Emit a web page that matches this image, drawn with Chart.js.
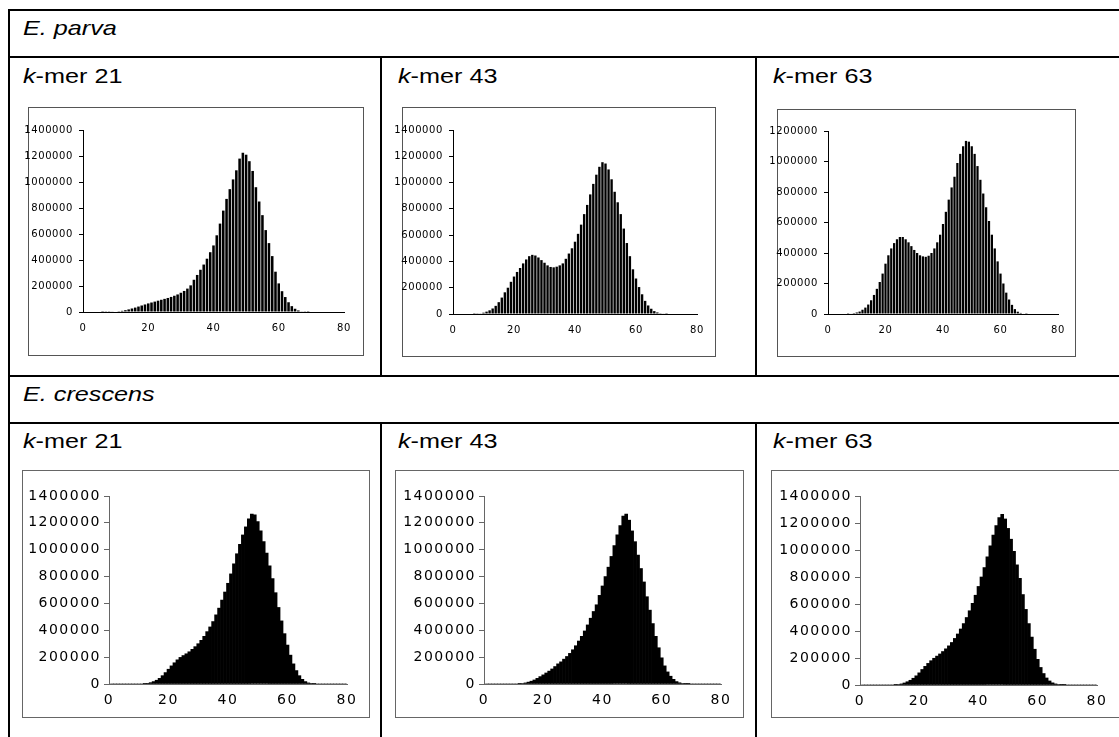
<!DOCTYPE html>
<html>
<head>
<meta charset="utf-8">
<script src="https://cdn.jsdelivr.net/npm/chart.js@4.4.1/dist/chart.umd.min.js"></script>
<style>
  html, body { margin: 0; padding: 0; background: #fff; }
  body { width: 1119px; height: 737px; position: relative; overflow: hidden; font-family: "Liberation Sans", Arial, sans-serif; }
  .rule { position: absolute; background: #000; }
  .label { position: absolute; font-size: 21px; line-height: 21px; color: #000; white-space: nowrap; transform: scaleX(1.2); transform-origin: 0 0; }
  .box { position: absolute; border: 1px solid #555; box-sizing: border-box; background: #fff; }
  .box canvas { position: absolute; top: 0; }
</style>
</head>
<body>
<!-- table rules -->
<div class="rule" style="left:8px;top:9px;width:1111px;height:2px"></div>
<div class="rule" style="left:8px;top:9px;width:2px;height:728px"></div>
<div class="rule" style="left:8px;top:56px;width:1111px;height:2px"></div>
<div class="rule" style="left:8px;top:375px;width:1111px;height:2px"></div>
<div class="rule" style="left:8px;top:422px;width:1111px;height:2px"></div>
<div class="rule" style="left:380px;top:56px;width:2px;height:321px"></div>
<div class="rule" style="left:755px;top:56px;width:2px;height:321px"></div>
<div class="rule" style="left:380px;top:422px;width:2px;height:315px"></div>
<div class="rule" style="left:755px;top:422px;width:2px;height:315px"></div>

<div class="label" style="left:23px;top:17px"><i>E. parva</i></div>
<div class="label" style="left:23px;top:65px"><i>k</i>-mer 21</div>
<div class="label" style="left:398px;top:65px"><i>k</i>-mer 43</div>
<div class="label" style="left:773px;top:65px"><i>k</i>-mer 63</div>
<div class="label" style="left:23px;top:383px"><i>E. crescens</i></div>
<div class="label" style="left:23px;top:430px"><i>k</i>-mer 21</div>
<div class="label" style="left:398px;top:430px"><i>k</i>-mer 43</div>
<div class="label" style="left:773px;top:430px"><i>k</i>-mer 63</div>

<div class="box" style="left:28px;top:107px;width:336px;height:249px"><canvas id="c1"></canvas></div>
<div class="box" style="left:402px;top:107px;width:314px;height:250px"><canvas id="c2"></canvas></div>
<div class="box" style="left:777px;top:109px;width:299px;height:248px"><canvas id="c3"></canvas></div>
<div class="box" style="left:22px;top:470px;width:348px;height:248px;border-color:#666"><canvas id="c4"></canvas></div>
<div class="box" style="left:395px;top:470px;width:349px;height:248px;border-color:#666"><canvas id="c5"></canvas></div>
<div class="box" style="left:771px;top:470px;width:352px;height:248px;border-color:#666"><canvas id="c6"></canvas></div>

<script>
// k-mer depth (x) and counts per depth (y)
const depth = [
  1, 2, 3, 4, 5, 6, 7, 8, 9, 10,
  11, 12, 13, 14, 15, 16, 17, 18, 19, 20,
  21, 22, 23, 24, 25, 26, 27, 28, 29, 30,
  31, 32, 33, 34, 35, 36, 37, 38, 39, 40,
  41, 42, 43, 44, 45, 46, 47, 48, 49, 50,
  51, 52, 53, 54, 55, 56, 57, 58, 59, 60,
  61, 62, 63, 64, 65, 66, 67, 68, 69, 70,
  71, 72, 73, 74, 75, 76, 77, 78, 79, 80
];

const parvaK21 = [
  0, 0, 0, 0, 0, 1000, 2000, 2000, 3000, 4000,
  6000, 9000, 14000, 20000, 27000, 34000, 42000, 50000, 58000, 66000,
  73000, 80000, 87000, 94000, 101000, 108000, 116000, 125000, 135000, 148000,
  162000, 180000, 205000, 248000, 285000, 325000, 365000, 410000, 460000, 512000,
  590000, 680000, 780000, 870000, 945000, 1020000, 1090000, 1180000, 1225000, 1210000,
  1160000, 1085000, 960000, 850000, 745000, 630000, 530000, 430000, 310000, 220000,
  160000, 115000, 75000, 45000, 25000, 12000, 5000, 2000, 1000, 0,
  0, 0, 0, 0, 0, 0, 0, 0, 0, 0
];

const parvaK43 = [
  0, 0, 0, 0, 0, 0, 1000, 2000, 5000, 10000,
  18000, 28000, 42000, 62000, 90000, 125000, 165000, 200000, 245000, 285000,
  320000, 350000, 385000, 415000, 440000, 450000, 445000, 430000, 410000, 390000,
  370000, 358000, 355000, 360000, 370000, 385000, 420000, 460000, 500000, 550000,
  610000, 680000, 760000, 830000, 910000, 990000, 1060000, 1120000, 1155000, 1145000,
  1100000, 1025000, 930000, 850000, 760000, 650000, 540000, 440000, 340000, 270000,
  205000, 150000, 100000, 65000, 40000, 22000, 12000, 6000, 3000, 1000,
  0, 0, 0, 0, 0, 0, 0, 0, 0, 0
];

const parvaK63 = [
  0, 0, 0, 0, 0, 0, 1000, 3000, 6000, 10000,
  16000, 28000, 42000, 62000, 90000, 125000, 165000, 210000, 265000, 330000,
  385000, 430000, 465000, 490000, 505000, 505000, 490000, 470000, 445000, 420000,
  400000, 385000, 378000, 375000, 382000, 400000, 430000, 470000, 520000, 590000,
  670000, 750000, 830000, 900000, 990000, 1050000, 1100000, 1135000, 1130000, 1100000,
  1050000, 970000, 880000, 790000, 700000, 610000, 520000, 430000, 345000, 265000,
  200000, 140000, 95000, 60000, 32000, 15000, 7000, 3000, 1000, 0,
  0, 0, 0, 0, 0, 0, 0, 0, 0, 0
];

const crescensK21 = [
  0, 0, 0, 0, 0, 0, 0, 0, 0, 0,
  0, 2000, 5000, 10000, 18000, 28000, 42000, 62000, 85000, 110000,
  135000, 158000, 180000, 198000, 212000, 225000, 240000, 258000, 278000, 300000,
  325000, 355000, 390000, 425000, 465000, 515000, 565000, 625000, 685000, 750000,
  820000, 895000, 970000, 1040000, 1110000, 1170000, 1230000, 1265000, 1260000, 1210000,
  1140000, 1060000, 975000, 880000, 785000, 680000, 570000, 470000, 375000, 290000,
  215000, 150000, 100000, 62000, 35000, 18000, 8000, 3000, 1000, 0,
  0, 0, 0, 0, 0, 0, 0, 0, 0, 0
];

const crescensK43 = [
  0, 0, 0, 0, 0, 0, 0, 0, 0, 0,
  0, 2000, 4000, 8000, 14000, 21000, 30000, 42000, 55000, 68000,
  82000, 96000, 112000, 130000, 150000, 165000, 185000, 205000, 228000, 255000,
  285000, 320000, 355000, 395000, 440000, 490000, 540000, 590000, 660000, 730000,
  800000, 870000, 950000, 1030000, 1110000, 1180000, 1250000, 1265000, 1220000, 1140000,
  1060000, 960000, 860000, 760000, 650000, 550000, 450000, 355000, 270000, 195000,
  135000, 90000, 58000, 35000, 18000, 9000, 4000, 2000, 1000, 0,
  0, 0, 0, 0, 0, 0, 0, 0, 0, 0
];

const crescensK63 = [
  0, 0, 0, 0, 0, 0, 0, 0, 0, 0,
  0, 2000, 4000, 8000, 15000, 24000, 35000, 50000, 68000, 90000,
  115000, 138000, 160000, 180000, 198000, 214000, 230000, 248000, 268000, 290000,
  315000, 345000, 378000, 415000, 455000, 500000, 550000, 605000, 665000, 730000,
  800000, 870000, 950000, 1030000, 1110000, 1180000, 1240000, 1265000, 1230000, 1160000,
  1080000, 990000, 890000, 790000, 670000, 560000, 455000, 355000, 265000, 190000,
  130000, 85000, 52000, 30000, 16000, 8000, 4000, 2000, 1000, 0,
  0, 0, 0, 0, 0, 0, 0, 0, 0, 0
];

const xTicks = [0, 20, 40, 60, 80];
const yMaxTop = [1400000, 1400000, 1200000];
const yMaxBottom = 1400000;
const yStep = 200000;

// the original tick font is a wide one, letterSpacing widens ours a bit
const tickSpacing = {
  id: 'tickSpacing',
  beforeLayout(chart, args, opts) { chart.ctx.letterSpacing = opts.value; },
  beforeDraw(chart, args, opts) { chart.ctx.letterSpacing = opts.value; }
};

Chart.defaults.font.family = '"DejaVu Sans", sans-serif';
Chart.defaults.color = '#000';

function makeChart(p) {
  const canvas = document.getElementById(p.id);
  // canvas sticks out left of its box so long y labels can overlap the frame
  const w = p.w + p.bleed;
  canvas.width = w; canvas.height = p.h;
  canvas.style.width = w + 'px'; canvas.style.height = p.h + 'px';
  canvas.style.left = (-p.bleed) + 'px';

  new Chart(canvas.getContext('2d'), {
    type: 'bar',
    data: {
      datasets: [{
        data: depth.map((d, i) => ({ x: d, y: p.series[i] })),
        backgroundColor: '#000',
        borderWidth: 0,
        barPercentage: p.bar,
        categoryPercentage: 1
      }]
    },
    plugins: [tickSpacing],
    options: {
      responsive: false,
      animation: false,
      events: [],
      layout: { padding: { left: 0, top: p.padTop, right: p.padRight, bottom: p.padBottom } },
      plugins: {
        legend: { display: false },
        tooltip: { enabled: false },
        tickSpacing: { value: p.spacing }
      },
      scales: {
        x: {
          type: 'linear',
          min: 0, max: 80,
          offset: false,
          afterFit: s => { s.height = p.xAxisH; },
          afterBuildTicks: s => { s.ticks = xTicks.map(v => ({ value: v })); },
          grid: { display: true, drawOnChartArea: false, drawTicks: false },
          border: { display: true, color: p.axisColor, width: 1 },
          ticks: { font: { size: p.font }, padding: p.xPad, maxRotation: 0, autoSkip: false, callback: v => String(v) }
        },
        y: {
          min: 0, max: p.yMax,
          afterFit: s => { s.width = p.axisW + p.bleed; },
          grid: { display: true, drawOnChartArea: false, drawTicks: true, tickLength: p.tick, color: p.axisColor },
          border: { display: true, color: p.axisColor, width: 1 },
          ticks: { stepSize: yStep, font: { size: p.font }, padding: p.yPad, autoSkip: false, callback: v => String(v) }
        }
      }
    }
  });
}

const topRow = { font: 10, spacing: '0.6px', bar: 0.78, xPad: 10, yPad: 6, tick: 4, axisColor: '#000', xAxisH: 24, bleed: 14 };
const bottomRow = { font: 14, spacing: '1.5px', bar: 1, xPad: 8, yPad: 3, tick: 5, axisColor: '#666', xAxisH: 30, bleed: 8 };

makeChart(Object.assign({}, topRow, { id: 'c1', series: parvaK21, yMax: yMaxTop[0], w: 334, h: 247, axisW: 54, padRight: 19, padTop: 22, padBottom: 19 }));
makeChart(Object.assign({}, topRow, { id: 'c2', series: parvaK43, yMax: yMaxTop[1], w: 312, h: 248, axisW: 50, padRight: 18, padTop: 22, padBottom: 18 }));
makeChart(Object.assign({}, topRow, { id: 'c3', series: parvaK63, yMax: yMaxTop[2], w: 297, h: 246, axisW: 50, padRight: 17, padTop: 21, padBottom: 18 }));
makeChart(Object.assign({}, bottomRow, { id: 'c4', series: crescensK21, yMax: yMaxBottom, w: 346, h: 246, axisW: 86, padRight: 22, padTop: 25, padBottom: 3 }));
makeChart(Object.assign({}, bottomRow, { id: 'c5', series: crescensK43, yMax: yMaxBottom, w: 347, h: 246, axisW: 88, padRight: 22, padTop: 25, padBottom: 3 }));
makeChart(Object.assign({}, bottomRow, { id: 'c6', series: crescensK63, yMax: yMaxBottom, w: 350, h: 246, axisW: 88, padRight: 25, padTop: 25, padBottom: 2 }));
</script>
</body>
</html>
